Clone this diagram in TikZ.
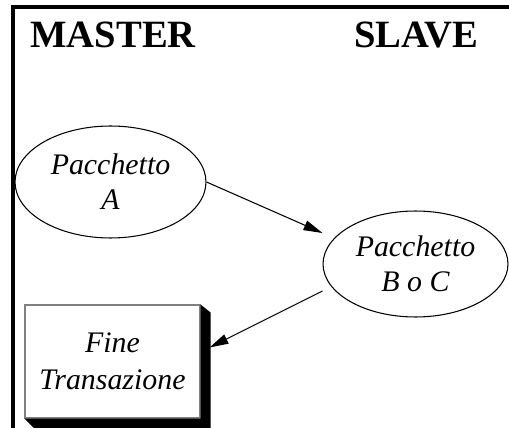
\documentclass[tikz,border=0pt]{standalone}
\usepackage{fontspec}
\setmainfont{Liberation Serif}
\usetikzlibrary{arrows.meta,positioning,shapes.geometric,calc}

\begin{document}
\begin{tikzpicture}[x=0.02cm, y=-0.02cm, every node/.style={font=\fontsize{17}{20}\selectfont\itshape}]
\tikzset{side/.style={anchor=base west, inner sep=0pt, font=\fontsize{22}{24}\selectfont\bfseries}}
\tikzset{pkt/.style={draw, ellipse, line width=0.6pt, inner sep=0pt, align=center}}
\tikzset{fin/.style={draw=gray, rectangle, line width=0.6pt, align=center, minimum width=3.5cm, minimum height=2.26cm, font=\fontsize{17}{21}\selectfont\itshape}}
\tikzset{msg/.style={line width=0.6pt, -{Triangle[length=0.38cm, width=0.2cm]}}}
\useasboundingbox (0,0) rectangle (509,428);
% frame
\draw[line width=2pt] (13,428) -- (13,7) -- (509,7);
\node[side] (master) at (30,48) {MASTER};
\node[side] (slave) at (354,48) {SLAVE};
\node[pkt, minimum width=3.82cm, minimum height=2.24cm] (pa) at (110.5,182) {Pacchetto\\A};
\node[pkt, minimum width=3.7cm, minimum height=2.12cm] (pbc) at (415.5,264) {Pacchetto\\B o C};
\node[fin] (fine) at (112.5,361.5) {Fine\\Transazione};
% shadow
\fill (fine.north east) -- ++(10,8) -- ($(fine.south east)+(10,10)$) -- ($(fine.south west)+(10,10)$)
  -- (fine.south west) -- (fine.south east) -- cycle;
\draw[msg] (pa.east) -- ([yshift=0.62cm]pbc.west);
\draw[msg] ([yshift=-0.54cm]pbc.west) -- ([xshift=0.18cm, yshift=0.28cm]fine.east);
\end{tikzpicture}
\end{document}
